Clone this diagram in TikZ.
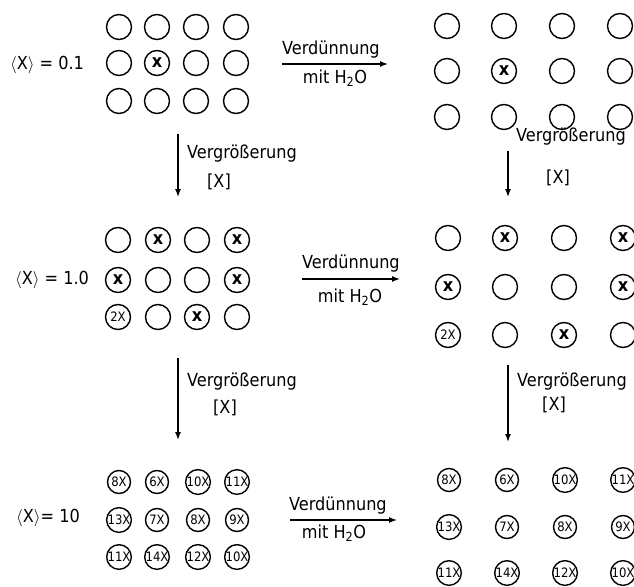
\documentclass[tikz,border=0pt]{standalone}
\usepackage{fontspec}
\setmainfont{DejaVu Sans Condensed}
\usetikzlibrary{arrows.meta}

% cell contents
\newcommand\nix{}
\newcommand\kreuz{{\fontsize{18}{18}\selectfont\bfseries x}}
\newcommand\zahl[1]{{\fontsize{13}{13}\selectfont #1X}}
% one row of cells: style, name prefix, y, list of x/content
\newcommand\cellrow[4]{%
  \foreach \xx/\lab [count=\cc] in {#4}{\node[#1] (#2-\cc) at (\xx,#3) {\lab};}}

\begin{document}
\begin{tikzpicture}[x=1bp,y=-1bp,
  cell/.style={circle,draw,line width=1.4bp,minimum size=25bp,inner sep=0pt},
  smallcell/.style={cell,minimum size=23bp},
  txt/.style={font=\fontsize{18}{21}\selectfont,inner sep=0pt},
  flow/.style={line width=1.4bp,-{Latex[length=8bp,width=6bp]}}]
\useasboundingbox (0,0) rectangle (634,587);

% ---- top row: <X> = 0.1
\node[txt] (c1) at (47,65) {\(\langle\)X\(\rangle\) = 0.1};
\cellrow{cell}{tl-1}{27}{119/\nix,157/\nix,196/\nix,236/\nix}
\cellrow{cell}{tl-2}{63}{119/\nix,157/\kreuz,196/\nix,236/\nix}
\cellrow{cell}{tl-3}{101}{119/\nix,157/\nix,196/\nix,236/\nix}

\cellrow{cell}{tr-1}{26}{447/\nix,504/\nix,562/\nix,620/\nix}
\cellrow{cell}{tr-2}{71}{447/\nix,504/\kreuz,562/\nix,620/\nix}
\cellrow{cell}{tr-3}{117}{447/\nix,504/\nix,562/\nix,620/\nix}

\coordinate (h1a) at (282,64);
\coordinate (h1b) at (388,64);
\draw[flow] (h1a) -- (h1b);
\node[txt] (h1t) at (331,50) {Verdünnung};
\node[txt] (h1u) at (335,78) {mit H\textsubscript{2}O};

% ---- enlargement, first step
\coordinate (v1a) at (178,134);
\coordinate (v1b) at (178,197);
\draw[flow] (v1a) -- (v1b);
\node[txt,anchor=west] (v1t) at (187,154) {Vergrößerung};
\node[txt,anchor=west] (v1u) at (207,182) {[X]};

\coordinate (v2a) at (508,151);
\coordinate (v2b) at (508,197);
\draw[flow] (v2a) -- (v2b);
\node[txt,anchor=west] (v2t) at (516,137) {Vergrößerung};
\node[txt,anchor=west] (v2u) at (546,178) {[X]};

% ---- middle row: <X> = 1.0
\node[txt] (c2) at (52,280) {\(\langle\)X\(\rangle\) = 1.0};
\cellrow{cell}{ml-1}{240}{118/\nix,158/\kreuz,197/\nix,237/\kreuz}
\cellrow{cell}{ml-2}{280}{118/\kreuz,158/\nix,197/\nix,237/\kreuz}
\cellrow{cell}{ml-3}{317}{118/\zahl{2},158/\nix,197/\kreuz,237/\nix}

\cellrow{cell}{mr-1}{238}{448/\nix,505/\kreuz,564/\nix,623/\kreuz}
\cellrow{cell}{mr-2}{287}{448/\kreuz,505/\nix,564/\nix,623/\kreuz}
\cellrow{cell}{mr-3}{335}{448/\zahl{2},505/\nix,564/\kreuz,623/\nix}

\coordinate (h2a) at (302,279);
\coordinate (h2b) at (400,279);
\draw[flow] (h2a) -- (h2b);
\node[txt] (h2t) at (351,264) {Verdünnung};
\node[txt] (h2u) at (350,297) {mit H\textsubscript{2}O};

% ---- enlargement, second step
\coordinate (v3a) at (178,358);
\coordinate (v3b) at (178,440);
\draw[flow] (v3a) -- (v3b);
\node[txt,anchor=west] (v3t) at (187,382) {Vergrößerung};
\node[txt,anchor=west] (v3u) at (213,408) {[X]};

\coordinate (v4a) at (508,365);
\coordinate (v4b) at (508,442);
\draw[flow] (v4a) -- (v4b);
\node[txt,anchor=west] (v4t) at (517,382) {Vergrößerung};
\node[txt,anchor=west] (v4u) at (542,405) {[X]};

% ---- bottom row: <X> = 10
\node[txt] (c3) at (48,518) {\(\langle\)X\(\rangle\)= 10};
\cellrow{smallcell}{bl-1}{482}{119/\zahl{8},157/\zahl{6},198/\zahl{10},237/\zahl{11}}
\cellrow{smallcell}{bl-2}{520}{119/\zahl{13},157/\zahl{7},198/\zahl{8},237/\zahl{9}}
\cellrow{smallcell}{bl-3}{557}{119/\zahl{11},157/\zahl{14},198/\zahl{12},237/\zahl{10}}

\cellrow{smallcell}{br-1}{480}{449/\zahl{8},507/\zahl{6},565/\zahl{10},623/\zahl{11}}
\cellrow{smallcell}{br-2}{527}{449/\zahl{13},507/\zahl{7},565/\zahl{8},623/\zahl{9}}
\cellrow{smallcell}{br-3}{573}{449/\zahl{11},507/\zahl{14},565/\zahl{12},623/\zahl{10}}

\coordinate (h3a) at (290,520);
\coordinate (h3b) at (397,520);
\draw[flow] (h3a) -- (h3b);
\node[txt] (h3t) at (338,506) {Verdünnung};
\node[txt] (h3u) at (334,533) {mit H\textsubscript{2}O};
\end{tikzpicture}
\end{document}
